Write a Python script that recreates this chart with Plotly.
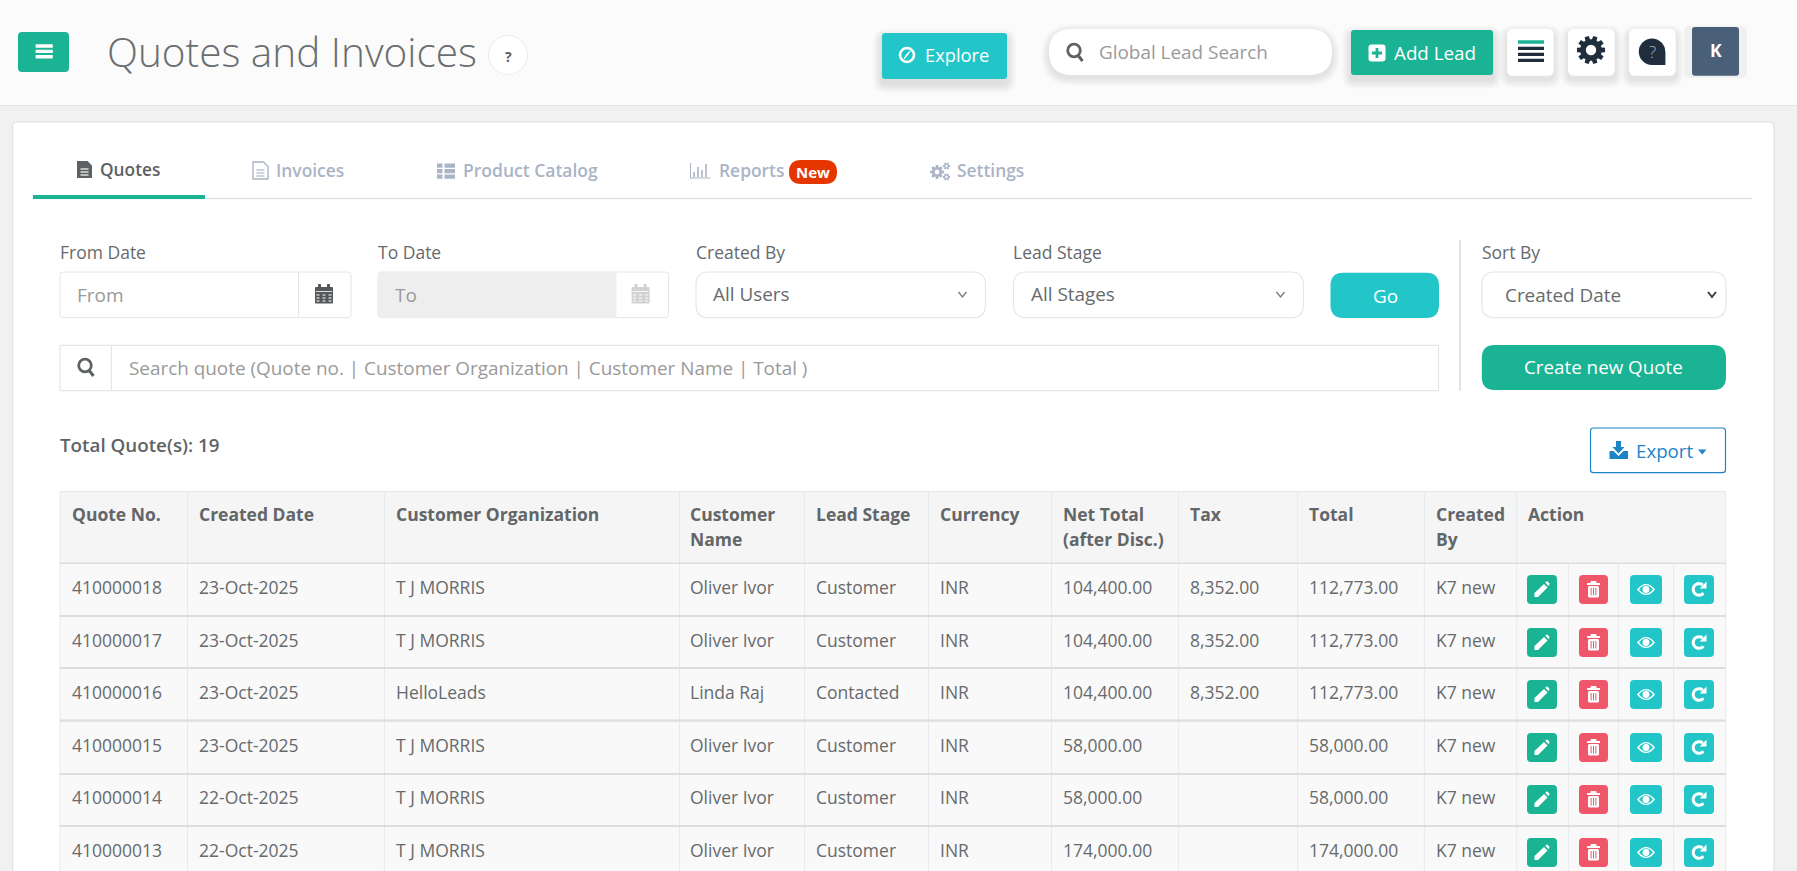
import numpy as np
import plotly.graph_objects as go

# ---------- data ----------
page_title = "Quotes and Invoices"
tab_labels = ["Quotes", "Invoices", "Product Catalog", "Reports", "Settings"]
filter_labels = ["From Date", "To Date", "Created By", "Lead Stage", "Sort By"]
filter_values = ["From", "To", "All Users", "All Stages", "Created Date"]
search_hint = "Search quote (Quote no. | Customer Organization | Customer Name | Total )"
total_label = "Total Quote(s): 19"
column_headers = ["Quote No.", "Created Date", "Customer Organization", "Customer<br>Name", "Lead Stage",
                  "Currency", "Net Total<br>(after Disc.)", "Tax", "Total", "Created<br>By", "Action"]
quote_no = ["410000018", "410000017", "410000016", "410000015", "410000014", "410000013"]
created_date = ["23-Oct-2025", "23-Oct-2025", "23-Oct-2025", "23-Oct-2025", "22-Oct-2025", "22-Oct-2025"]
organization = ["T J MORRIS", "T J MORRIS", "HelloLeads", "T J MORRIS", "T J MORRIS", "T J MORRIS"]
customer_name = ["Oliver Ivor", "Oliver Ivor", "Linda Raj", "Oliver Ivor", "Oliver Ivor", "Oliver Ivor"]
lead_stage = ["Customer", "Customer", "Contacted", "Customer", "Customer", "Customer"]
currency = ["INR"] * 6
net_total = ["104,400.00", "104,400.00", "104,400.00", "58,000.00", "58,000.00", "174,000.00"]
tax = ["8,352.00", "8,352.00", "8,352.00", "", "", ""]
total = ["112,773.00", "112,773.00", "112,773.00", "58,000.00", "58,000.00", "174,000.00"]
created_by = ["K7 new"] * 6

# ---------- palette / layout ----------
TEAL, CYAN, RED = "#1ab394", "#23c6c8", "#ed5565"
TXT, HINT, TAB, DARK, BORDER = "#676a6c", "#9a9a9a", "#a9b4c6", "#1f2d3d", "#e5e6e7"
W, H = 1797, 871
FONT = "Open Sans"
shapes, notes = [], []


def path(d, fill=None, line=None, lw=1, op=1.0):
    shapes.append(dict(type="path", path=d, xref="x", yref="y", opacity=op,
                       fillcolor=fill or "rgba(0,0,0,0)",
                       line=dict(color=line or "rgba(0,0,0,0)", width=lw if line else 0)))


def rr(x0, y0, x1, y1, r=0, fill=None, line=None, lw=1, op=1.0):
    r = min(r, (x1 - x0) / 2, (y1 - y0) / 2)
    d = (f"M{x0+r},{y0} L{x1-r},{y0} Q{x1},{y0} {x1},{y0+r} L{x1},{y1-r} Q{x1},{y1} {x1-r},{y1} "
         f"L{x0+r},{y1} Q{x0},{y1} {x0},{y1-r} L{x0},{y0+r} Q{x0},{y0} {x0+r},{y0} Z")
    path(d, fill, line, lw, op)


def circ(cx, cy, r, fill=None, line=None, lw=1):
    shapes.append(dict(type="circle", xref="x", yref="y", x0=cx - r, x1=cx + r, y0=cy - r, y1=cy + r,
                       fillcolor=fill or "rgba(0,0,0,0)",
                       line=dict(color=line or "rgba(0,0,0,0)", width=lw if line else 0)))


def hline(x0, x1, y, c, w=1):
    shapes.append(dict(type="line", xref="x", yref="y", x0=x0, x1=x1, y0=y, y1=y, line=dict(color=c, width=w)))


def vline(x, y0, y1, c, w=1):
    shapes.append(dict(type="line", xref="x", yref="y", x0=x, x1=x, y0=y0, y1=y1, line=dict(color=c, width=w)))


def text(x, y, s, size=17.4, color=TXT, weight=400, anchor="left"):
    if anchor == "left":
        x -= 1.1
    notes.append(dict(x=x, y=y, text=s, xref="x", yref="y", showarrow=False, xanchor=anchor, yanchor="middle",
                      align="left", borderpad=0, font=dict(family=FONT, size=size, color=color, weight=weight)))


def shadow(x0, y0, x1, y1, r, dy=5, n=9, op=0.010):
    for i in range(n, 0, -1):
        rr(x0 - i, y0 - i + dy, x1 + i, y1 + i + dy, r + i, fill="#000000", op=op)


def poly(pts):
    return "M" + " L".join(f"{a:.2f},{b:.2f}" for a, b in pts)


def gear(cx, cy, R, root, hole, teeth, color, bg):
    pts = []
    step = 2 * np.pi / teeth
    for k in range(teeth):
        a = k * step
        for da, rad in [(-0.30, root), (-0.20, R), (0.20, R), (0.30, root)]:
            t = a + da * step * 1.2
            pts.append((cx + rad * np.cos(t), cy + rad * np.sin(t)))
    path(poly(pts) + " Z", fill=color)
    circ(cx, cy, hole, fill=bg)


def search_icon(cx, cy, c):
    circ(cx - 1, cy - 1.5, 6.3, line=c, lw=2.8)
    path(f"M{cx+3.2},{cy+3.5} L{cx+7.5},{cy+9}", line=c, lw=3)


def chevron(cx, cy, c, lw=1.3):
    path(f"M{cx-4},{cy-2.5} L{cx},{cy+2.5} L{cx+4},{cy-2.5}", line=c, lw=lw)


def calendar(cx, cy, c, bg="#ffffff"):
    rr(cx - 9, cy - 7, cx + 9, cy + 9.5, 1, fill=c)
    rr(cx - 6, cy - 10, cx - 3, cy - 5, 0.5, fill=c)
    rr(cx + 3, cy - 10, cx + 6, cy - 5, 0.5, fill=c)
    hline(cx - 8, cx + 8, cy - 2.5, bg, 0.8)
    for dy in (1, 4, 7):
        shapes.append(dict(type="line", xref="x", yref="y", x0=cx - 7.5, x1=cx + 7.5, y0=cy + dy, y1=cy + dy,
                           line=dict(color=bg, width=1, dash="dot")))


def doc(cx, cy, c, solid):
    d = f"M{cx-7.5},{cy-8.5} L{cx+3},{cy-8.5} L{cx+7.5},{cy-4} L{cx+7.5},{cy+8.5} L{cx-7.5},{cy+8.5} Z"
    if solid:
        path(d, fill=c)
        lc = "#ffffff"
    else:
        path(d, fill="#ffffff", line=c, lw=1.4)
        lc = c
    for dy in (-0.5, 2.5, 5.5):
        hline(cx - 4, cx + 4, cy + dy, lc, 1.2)


def pencil(cx, cy):
    path(poly([(cx-7.5, cy+3.5), (cx+2, cy-5.5), (cx+5.5, cy-2), (cx-4, cy+7.5), (cx-7.5, cy+7.5)]) + " Z", fill="#fff")
    path(poly([(cx+3.2, cy-6.8), (cx+5, cy-8.3), (cx+7.6, cy-5.8), (cx+6.6, cy-3.2)]) + " Z", fill="#fff")


def trash(cx, cy, bg):
    rr(cx-6.5, cy-6.5, cx+6.5, cy-4.5, 0.5, fill="#fff")
    rr(cx-3, cy-8.5, cx+3, cy-5.5, 1, fill="#fff")
    rr(cx-5.5, cy-3.5, cx+5.5, cy+8, 1.5, fill="#fff")
    for dx in (-2.4, 0, 2.4):
        vline(cx+dx, cy-1.5, cy+6, bg, 1)


def eye(cx, cy, bg):
    path(f"M{cx-9},{cy} Q{cx},{cy-11} {cx+9},{cy} Q{cx},{cy+11} {cx-9},{cy} Z", fill="#fff")
    path(f"M{cx-7},{cy} Q{cx},{cy-8.3} {cx+7},{cy} Q{cx},{cy+8.3} {cx-7},{cy} Z", fill=bg)
    circ(cx, cy, 3.4, fill="#fff")


def refresh(cx, cy):
    t = np.radians(np.arange(40, 325, 15))
    path(poly([(cx + 5.8*np.cos(a), cy + 5.8*np.sin(a)) for a in t]), line="#fff", lw=3)
    path(poly([(cx+7.5, cy-8), (cx+7.5, cy-1), (cx+0.8, cy-1)]) + " Z", fill="#fff")


# ---------- page chrome ----------
rr(0, 0, W, H, 0, fill="#f1f1f1")
rr(0, 0, W, 105, 0, fill="#fbfbfb")
hline(0, W, 105.5, "#e3e3e3", 1.2)
rr(12.5, 122, 1774, H + 10, 5, fill="#ffffff", line="#e2e2e2", lw=1.2)

# hamburger + title
rr(18, 32, 69, 72, 4, fill=TEAL)
for y in (44.3, 49.7, 55):
    rr(35.6, y, 52.8, y + 3.4, 0.4, fill="#ffffff")
text(107.5, 51, page_title, size=40.5, color="#6b6e70", weight=300)
circ(508, 55, 19.5, fill="#ffffff", line="#ececec", lw=1)
text(508, 56, "?", size=14, color="#5c5f61", weight=700, anchor="center")

# Explore
shadow(882, 33, 1007, 79, 3)
rr(882, 33, 1007, 79, 3, fill=CYAN)
circ(907, 55, 7, line="#ffffff", lw=2.6)
path("M910,51 L907.5,55 L904,59 L906.2,55 Z", fill="#ffffff", line="#ffffff", lw=1)
text(925, 54, "Explore", size=18.3, color="#ffffff")

# global search
shadow(1049, 29, 1332, 75, 23, dy=3, n=8, op=0.012)
rr(1049, 29, 1332, 75, 23, fill="#ffffff")
search_icon(1075, 52, "#5f6264")
text(1099.5, 52, "Global Lead Search", size=18.9, color=HINT)

# Add Lead
shadow(1351, 30, 1493, 75, 3)
rr(1351, 30, 1493, 75, 3, fill=TEAL)
rr(1368.5, 44.5, 1385.5, 61.5, 3, fill="#ffffff")
rr(1375.6, 48, 1378.4, 58, 0, fill=TEAL)
rr(1372, 51.6, 1382, 54.4, 0, fill=TEAL)
text(1394.5, 52.5, "Add Lead", size=18.8, color="#ffffff")

# icon tiles
for x0 in (1507, 1568, 1629):
    shadow(x0, 29, x0 + 46.7, 75.7, 6, dy=4, n=8, op=0.010)
    rr(x0, 29, x0 + 46.7, 75.7, 6, fill="#ffffff")
rr(1518, 40.3, 1544, 43.7, 0, fill=TEAL)
for y in (46.7, 52.7, 58.7):
    rr(1518, y, 1544, y + 3.3, 0, fill=DARK)
gear(1591, 50, 14.2, 10.8, 5.2, 10, DARK, "#ffffff")
circ(1652, 51.7, 13.2, fill=DARK)
rr(1652, 51.7, 1665.4, 65, 0, fill=DARK)
text(1652.5, 51.7, "?", size=17, color="#a8b2bd", weight=300, anchor="center")
rr(1684, 25.7, 1747, 78, 6, fill="#f0f0f0")
rr(1692, 27, 1739, 75.7, 3, fill="#4a6079")
text(1715.5, 49.5, "K", size=17.5, color="#ffffff", weight=700, anchor="center")

# ---------- tabs ----------
hline(33, 1752.5, 198.5, "#e2e2e2", 1.6)
rr(33, 195, 205, 199, 0, fill=TEAL)
doc(84.5, 169.5, "#5e6163", True)
text(100.5, 169.3, tab_labels[0], size=17.3, color="#5e6163", weight=600)
doc(260.5, 170.5, TAB, False)
text(276, 170, tab_labels[1], size=17.4, color=TAB, weight=600)
for yy in (163.5, 169, 174.5):
    rr(437, yy, 442.5, yy + 4.2, 0, fill=TAB)
    rr(444.5, yy, 455, yy + 4.2, 0, fill=TAB)
text(463, 170, tab_labels[2], size=17.5, color=TAB, weight=600)
vline(690.5, 163, 178, TAB, 1)
hline(690, 710.5, 178, TAB, 1)
for bx, top in ((694, 172), (698, 167), (702, 170), (706, 164)):
    vline(bx, top, 177, TAB, 1.6)
text(719, 170, tab_labels[3], size=17.4, color=TAB, weight=600)
rr(789, 160, 837, 184, 12, fill="#e63600")
text(813, 172, "New", size=15, color="#ffffff", weight=700, anchor="center")
gear(937, 172, 7, 5, 2.4, 8, TAB, "#ffffff")
gear(946.5, 166, 3.6, 2.5, 1.2, 6, TAB, "#ffffff")
gear(946.5, 177, 3.6, 2.5, 1.2, 6, TAB, "#ffffff")
text(957, 170, tab_labels[4], size=17.4, color=TAB, weight=600)

# ---------- filters ----------
for x, s in zip((60, 378, 696, 1013.5, 1481.8), filter_labels):
    text(x, 251.5, s, size=17.5, color=TXT)

rr(60, 272, 351, 317.7, 3, fill="#ffffff", line=BORDER)
vline(298.5, 272, 317.7, BORDER)
text(77.5, 295, filter_values[0], size=19, color=HINT)
calendar(324, 294, "#55585a")

rr(378, 272, 668.5, 317.7, 3, fill="#ffffff", line=BORDER)
rr(378, 272, 616.5, 317.7, 2, fill="#eeeeee")
text(395, 295, filter_values[1], size=19, color=HINT)
calendar(640.6, 294, "#d2d2d2")

for x0, x1, tx, s, cx, chev, lw in ((696, 985.5, 713, filter_values[2], 962.5, "#777777", 1.3),
                                    (1013.5, 1303.5, 1031.3, filter_values[3], 1280.5, "#777777", 1.3),
                                    (1481.8, 1726, 1505, filter_values[4], 1712, "#3c3c3c", 2)):
    rr(x0, 272, x1, 317.7, 13, fill="#ffffff", line=BORDER, lw=1.2)
    text(tx, 294 if x0 < 1400 else 295, s, size=18.9, color=TXT)
    chevron(cx, 294.5, chev, lw)

rr(1330.5, 272.7, 1439, 318, 13, fill=CYAN)
text(1385, 295.5, "Go", size=19, color="#ffffff", anchor="center")
vline(1460, 240, 390.7, "#d8d8d8", 1.4)
rr(1481.8, 345, 1726, 390, 13, fill=TEAL)
text(1603.5, 366.7, "Create new Quote", size=18.8, color="#ffffff", anchor="center")

rr(60, 345.3, 1438.5, 390.7, 0, fill="#ffffff", line=BORDER, lw=1.2)
vline(111.4, 345.3, 390.7, BORDER, 1.2)
search_icon(86, 367, "#5f6264")
text(128.6, 368, search_hint, size=18.9, color=HINT)

text(60, 444.5, total_label, size=18.8, color="#606365", weight=600)

rr(1590.5, 428, 1725.5, 472.7, 3, fill="#ffffff", line="#1c84c6", lw=1.2)
path("M1616,441 L1621,441 L1621,447 L1624.5,447 L1618.5,453.5 L1612.5,447 L1616,447 Z", fill="#1c84c6")
path("M1609.5,451 L1613.5,451 L1618.5,456 L1623.5,451 L1628,451 L1628,459 L1609.5,459 Z", fill="#1c84c6")
text(1636, 450.2, "Export", size=18.7, color="#1c84c6")
path("M1698,449.5 L1706.5,449.5 L1702.2,454.5 Z", fill="#1c84c6")

# ---------- table ----------
col_x = [60, 187.5, 384.4, 679.5, 804.6, 928.5, 1051.5, 1178.6, 1297.7, 1424.3, 1516.7, 1725.7]
text_x = [71.6, 199.4, 396, 690.3, 816, 940, 1063, 1190, 1309, 1436, 1527.6]
row_top = [563.3, 616, 668, 720.7, 774, 826]
row_text = [587.2, 640.3, 692.3, 745.3, 797.3, 850.3]
action_x = [1568.7, 1618.3, 1673.7]

rr(60, 491.3, 1725.7, 563.3, 0, fill="#f5f5f5")
rr(60, 563.3, 1725.7, H + 5, 0, fill="#f9f9f9")
hline(60, 1725.7, 491.5, "#e7e7e7", 1)
for x in col_x:
    vline(x, 491.3, H + 5, "#e7eaec", 1)
for x in action_x:
    vline(x, 564, H + 5, "#e7eaec", 1)
hline(60, 1725.7, row_top[0], "#dddddd", 1.5)
for y in row_top[1:]:
    hline(60, 1725.7, y, "#dddddd", 2.2)

for x, h in zip(text_x, column_headers):
    parts = h.split("<br>")
    text(x, 513.7, parts[0], size=17.5, color="#636668", weight=700)
    if len(parts) > 1:
        text(x, 539, parts[1], size=17.5, color="#636668", weight=700)

columns = [quote_no, created_date, organization, customer_name, lead_stage, currency, net_total, tax, total, created_by]
for x, col in zip(text_x, columns):
    for y, val in zip(row_text, col):
        if val:
            text(x, y, val, size=17.5)

for y in row_text:
    cy = y + 2.2
    rr(1527, cy - 14.5, 1557, cy + 14.5, 4, fill=TEAL)
    pencil(1542, cy)
    rr(1579, cy - 14.5, 1608, cy + 14.5, 4, fill="#f0566a")
    trash(1593.5, cy, "#f0566a")
    rr(1630, cy - 14.5, 1662, cy + 14.5, 4, fill=CYAN)
    eye(1646, cy, CYAN)
    rr(1684, cy - 14.5, 1714, cy + 14.5, 4, fill=CYAN)
    refresh(1699, cy)

fig = go.Figure()
fig.update_layout(width=W, height=H, margin=dict(l=0, r=0, t=0, b=0), paper_bgcolor="#f1f1f1", plot_bgcolor="#f1f1f1",
                  xaxis=dict(range=[0, W], visible=False, fixedrange=True),
                  yaxis=dict(range=[H, 0], visible=False, fixedrange=True),
                  shapes=shapes, annotations=notes, showlegend=False)
fig.write_html("out.html", config=dict(displayModeBar=False),
               post_script="document.body.style.margin='0';document.body.style.overflow='hidden';")
